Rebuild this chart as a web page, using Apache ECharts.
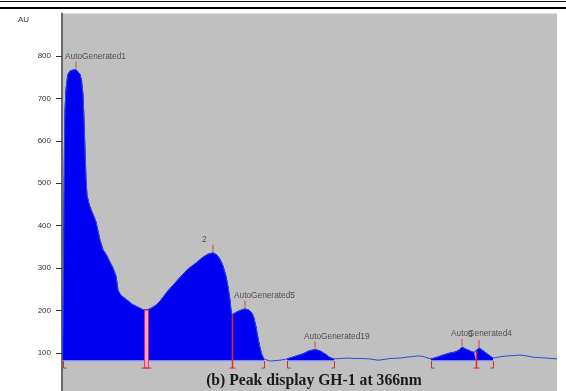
<!DOCTYPE html>
<html><head><meta charset="utf-8">
<script src="https://cdn.jsdelivr.net/npm/echarts@6/dist/echarts.min.js"></script>
<style>html,body{margin:0;padding:0;background:#fff;overflow:hidden}#c{width:566px;height:396px}</style>
</head><body><div id="c"></div>
<script>
// Retention time (arbitrary units) and absorbance (AU) of the trace
const traceTime = [0.05,0.1,0.2,0.25,0.3,0.4,0.5,0.6,0.8,1.1,1.4,1.6,1.8,1.95,2.1,2.2,2.3,2.4,2.5,2.65,2.8,3.1,3.4,3.8,4.1,4.4,4.8,5.1,5.4,5.5,5.6,5.8,6.1,6.5,7.0,7.6,8.1,8.4,8.8,9.3,9.8,10.5,11.3,12.5,13.5,14.1,14.6,15.1,15.5,15.8,16.1,16.4,16.6,16.8,16.9,17.0,17.2,17.5,17.9,18.3,18.7,19.0,19.2,19.4,19.6,19.8,20.0,20.2,20.4,20.8,21.3,21.8,22.5,23.3,24.1,24.7,25.3,25.8,26.3,26.8,27.2,27.8,28.5,29.3,30.0,30.8,31.6,32.3,32.8,33.8,34.8,35.6,36.1,36.6,36.9,37.5,38.1,38.8,39.3,39.7,40.0,40.4,40.8,41.2,41.4,41.7,42.0,42.4,42.8,43.1,43.8,44.5,45.2,45.8,46.5,47.1,47.8,48.5,49.0,49.5];
const traceAU = [81,154,460,602,673,720,743,757,765,767,768,765,757,743,708,649,578,508,472,456,444,427,409,366,343,333,314,300,281,265,248,239,232,225,215,208,202,201,204,211,222,244,265,296,314,326,333,336,331,321,305,281,256,225,201,190,192,197,201,204,201,194,182,161,135,112,95,86,82,81,82,83,86,92,98,105,108,105,98,89,86,87,88,87,87,86,83,85,87,88,91,93,92,88,86,90,95,100,102,107,114,109,105,101,105,112,107,100,93,88,91,93,94,95,93,90,89,88,87,86];

// Peaks
const peakNames = ['AutoGenerated1','2','AutoGenerated5','AutoGenerated19','AutoGenerated4','3'];
const apexTime = [1.4,15.1,18.3,25.3,40.0,41.7];
const apexAU = [768,336,204,108,114,112];
const peakStart = [0.05,8.4,17.0,22.5,36.9,41.4];
const peakEnd = [8.4,17.0,20.2,27.2,41.4,43.1];
const valleyDropTime = [8.4];
const dropTime = [17.0,41.4];
const integrationBase = 81;

// Axis
const yTicks = [100,200,300,400,500,600,700,800];
const captionText = '(b) Peak display GH-1 at 366nm';

const trace = traceTime.map((t,i)=>[t, traceAU[i]]);
function auAt(t){
  for (let i=0;i<traceTime.length;i++){ if (Math.abs(traceTime[i]-t)<1e-9) return traceAU[i]; }
  return integrationBase;
}
const BLUE = '#0000f2';
const RED = '#e02828';

const areaSeries = peakStart.map((s,k)=>({
  type:'line', z:2, silent:true, showSymbol:false, animation:false,
  data: trace.filter(p=>p[0]>=s-1e-9 && p[0]<=peakEnd[k]+1e-9),
  lineStyle:{width:1,color:BLUE},
  areaStyle:{color:BLUE, opacity:1, origin:integrationBase}
}));

// boundary marks: kind 0 start, 1 end, 2 drop, 3 valley drop
const boundaryData = [];
peakStart.forEach(s=>{ if (!peakEnd.some(e=>Math.abs(e-s)<1e-9)) boundaryData.push([s, integrationBase, 0]); });
peakEnd.forEach(e=>{ if (!peakStart.some(s=>Math.abs(e-s)<1e-9)) boundaryData.push([e, integrationBase, 1]); });
dropTime.forEach(t=>boundaryData.push([t, auAt(t), 2]));
valleyDropTime.forEach(t=>boundaryData.push([t, auAt(t), 3]));

function renderBoundary(params, api){
  const t = api.value(0), v = api.value(1), kind = api.value(2);
  const top = api.coord([t, v]);
  const base = api.coord([t, integrationBase]);
  const x = Math.round(base[0]) + 0.5;
  const yb = base[1], ye = yb + 7;
  const st = {stroke:RED, fill:null, lineWidth:1};
  if (kind === 0) return {type:'polyline', shape:{points:[[x,yb],[x,ye],[x+3,ye]]}, style:st};
  if (kind === 1) return {type:'polyline', shape:{points:[[x,yb],[x,ye],[x-3,ye]]}, style:st};
  if (kind === 2) return {type:'group', children:[
    {type:'line', shape:{x1:x,y1:top[1],x2:x,y2:ye}, style:{stroke:RED,lineWidth:1.5}},
    {type:'line', shape:{x1:x-3,y1:ye,x2:x+3,y2:ye}, style:st}
  ]};
  return {type:'group', children:[
    {type:'rect', shape:{x:x-2,y:top[1],width:4,height:ye-top[1]}, style:{fill:'#f4a0c8',stroke:RED,lineWidth:0.8}},
    {type:'line', shape:{x1:x-5,y1:ye,x2:x+5,y2:ye}, style:st}
  ]};
}

function renderBaseline(params, api){
  const a = api.coord([api.value(0), integrationBase]);
  const b = api.coord([api.value(1), integrationBase]);
  return {type:'line', shape:{x1:a[0],y1:a[1]-0.5,x2:b[0],y2:b[1]-0.5}, style:{stroke:'#7d8cff',lineWidth:1.2}};
}

const chart = echarts.init(document.getElementById('c'), null, {renderer:'canvas'});
chart.setOption({
  animation:false,
  backgroundColor:'#ffffff',
  grid:{left:62,right:9,top:13.6,bottom:0.6,show:true,backgroundColor:'#c0c0c0',borderWidth:0},
  xAxis:{type:'value',min:0,max:49.5,show:false},
  yAxis:{type:'value',min:0,max:900,interval:100,
    splitLine:{show:false},
    axisLine:{show:true,lineStyle:{color:'#6a6a6a',width:2}},
    axisTick:{show:true,length:6,lineStyle:{color:'#333',width:1},customValues:yTicks},
    axisLabel:{customValues:yTicks,margin:11,fontSize:8,color:'#333',fontFamily:'Liberation Sans'}
  },
  graphic:[
    {type:'rect',z:100,shape:{x:0,y:1,width:566,height:1},style:{fill:'#111'}},
    {type:'rect',z:100,shape:{x:0,y:7,width:566,height:2},style:{fill:'#000'}},
    {type:'text',z:100,x:18,y:20,style:{text:'AU',fontSize:8,fill:'#333',fontFamily:'Liberation Sans',textVerticalAlign:'middle'}},
    {type:'text',z:100,x:314,y:381,style:{text:captionText,fontSize:15.7,fontWeight:'bold',fill:'#1a1a1a',fontFamily:'Liberation Serif',textAlign:'center',textVerticalAlign:'middle'}}
  ],
  series:[
    ...areaSeries,
    {type:'line',z:3,silent:true,showSymbol:false,data:trace,lineStyle:{width:1,color:'#3048d8'}},
    {type:'custom',z:4,silent:true,data:peakStart.map((s,k)=>[s,peakEnd[k]]),renderItem:renderBaseline},
    {type:'custom',z:5,silent:true,data:boundaryData,renderItem:renderBoundary},
    {type:'scatter',z:6,silent:true,symbol:'rect',symbolSize:[1,7],symbolOffset:[0,-4.5],
      itemStyle:{color:RED},
      data:peakNames.map((n,i)=>({name:n,value:[apexTime[i],apexAU[i]]})),
      label:{show:true,position:'top',distance:1,align:'left',offset:[-11,0],formatter:'{b}',
        fontSize:8.3,color:'#333',fontFamily:'Liberation Sans'}}
  ]
});
</script>
</body></html>
